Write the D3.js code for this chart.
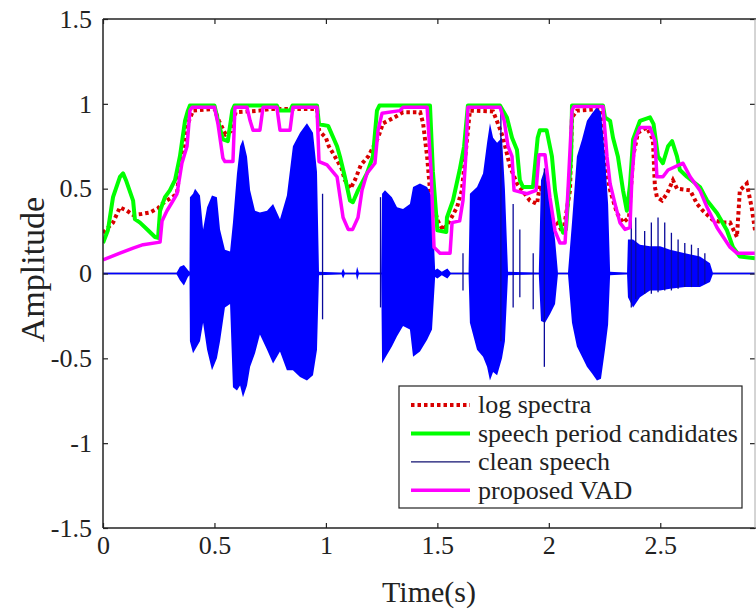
<!DOCTYPE html>
<html>
<head>
<meta charset="utf-8">
<script src="https://cdn.jsdelivr.net/npm/d3@7"></script>
<style>
  body { margin: 0; background: #fff; }
  text { font-family: "Liberation Serif", "Times New Roman", serif; fill: #222; }
</style>
</head>
<body>
<div id="chart"></div>
<script>
var svgWidth = 756;
var svgHeight = 610;

// plot box in pixels (right edge of the axes is cut by the picture)
var box = { left: 103, top: 19, right: 755, bottom: 528 };

var xTicks = [0, 0.5, 1, 1.5, 2, 2.5];
var yTicks = [-1.5, -1, -0.5, 0, 0.5, 1, 1.5];
var xMax = 2.925;

// log spectra [time, value]
var logSpectra = [
  [0, 0.24], [0.045, 0.30], [0.076, 0.39], [0.108, 0.37], [0.135, 0.345], [0.17, 0.35],
  [0.211, 0.36], [0.247, 0.385], [0.265, 0.41], [0.287, 0.43], [0.332, 0.47], [0.345, 0.63],
  [0.368, 0.75], [0.381, 0.885], [0.404, 0.96], [0.5, 0.97], [0.52, 0.9], [0.55, 0.82],
  [0.575, 0.84], [0.595, 0.95], [0.65, 0.955], [0.7, 0.96], [0.75, 0.97], [0.96, 0.97],
  [0.97, 0.84], [1.0, 0.80], [1.013, 0.75], [1.04, 0.69], [1.07, 0.62], [1.085, 0.55],
  [1.11, 0.50], [1.13, 0.55], [1.157, 0.64], [1.19, 0.69], [1.234, 0.80], [1.256, 0.885],
  [1.30, 0.915], [1.346, 0.95], [1.423, 0.95], [1.436, 0.885], [1.454, 0.69], [1.467, 0.49],
  [1.50, 0.315], [1.525, 0.255], [1.557, 0.315], [1.588, 0.39], [1.61, 0.49], [1.633, 0.79],
  [1.646, 0.96], [1.75, 0.955], [1.767, 0.9], [1.795, 0.80], [1.826, 0.63], [1.857, 0.53],
  [1.915, 0.43], [1.947, 0.41], [1.96, 0.52], [2.005, 0.33], [2.036, 0.30], [2.064, 0.24],
  [2.095, 0.49], [2.104, 0.92], [2.126, 0.96], [2.23, 0.97], [2.261, 0.59], [2.275, 0.49],
  [2.306, 0.355], [2.333, 0.30], [2.36, 0.33], [2.378, 0.69], [2.40, 0.83], [2.44, 0.86],
  [2.467, 0.79], [2.476, 0.51], [2.485, 0.45], [2.508, 0.43], [2.53, 0.47], [2.557, 0.55],
  [2.575, 0.50], [2.634, 0.49], [2.665, 0.41], [2.691, 0.37], [2.736, 0.315], [2.781, 0.30],
  [2.813, 0.30], [2.844, 0.215], [2.857, 0.49], [2.888, 0.53], [2.91, 0.39], [2.925, 0.255]
];

// speech period candidates [time, value]
var candidates = [
  [0, 0.18], [0.022, 0.255], [0.045, 0.45], [0.076, 0.57], [0.09, 0.59], [0.103, 0.55],
  [0.135, 0.43], [0.143, 0.32], [0.166, 0.30], [0.202, 0.255], [0.233, 0.215], [0.247, 0.21],
  [0.256, 0.37], [0.278, 0.45], [0.30, 0.49], [0.323, 0.55], [0.345, 0.69], [0.368, 0.90],
  [0.381, 0.96], [0.39, 0.99], [0.50, 0.99], [0.516, 0.9], [0.538, 0.79], [0.56, 0.78],
  [0.58, 0.96], [0.59, 0.99], [0.78, 0.99], [0.79, 0.96], [0.84, 0.96], [0.85, 0.99],
  [0.96, 0.99], [0.969, 0.88], [1.01, 0.87], [1.05, 0.75], [1.063, 0.69], [1.085, 0.57],
  [1.108, 0.43], [1.121, 0.42], [1.144, 0.49], [1.184, 0.59], [1.211, 0.69], [1.229, 0.96],
  [1.24, 0.99], [1.467, 0.99], [1.48, 0.6], [1.50, 0.255], [1.54, 0.245], [1.543, 0.33],
  [1.570, 0.43], [1.60, 0.61], [1.62, 0.75], [1.637, 0.99], [1.781, 0.99], [1.812, 0.92],
  [1.835, 0.80], [1.857, 0.73], [1.87, 0.55], [1.884, 0.51], [1.929, 0.51], [1.95, 0.80],
  [1.96, 0.845], [1.99, 0.845], [2.014, 0.69], [2.028, 0.49], [2.05, 0.30], [2.064, 0.24],
  [2.077, 0.26], [2.10, 0.69], [2.104, 0.99], [2.243, 0.99], [2.252, 0.92], [2.275, 0.90],
  [2.288, 0.80], [2.31, 0.69], [2.333, 0.49], [2.35, 0.37], [2.364, 0.52], [2.378, 0.79],
  [2.409, 0.90], [2.454, 0.92], [2.47, 0.88], [2.49, 0.69], [2.512, 0.65], [2.535, 0.75],
  [2.553, 0.78], [2.575, 0.69], [2.588, 0.61], [2.62, 0.57], [2.678, 0.51], [2.71, 0.43],
  [2.755, 0.355], [2.799, 0.255], [2.826, 0.155], [2.857, 0.10], [2.925, 0.09]
];

// proposed VAD [time, value]
var vad = [
  [0, 0.08], [0.076, 0.12], [0.135, 0.15], [0.18, 0.17], [0.256, 0.185], [0.265, 0.31],
  [0.287, 0.37], [0.31, 0.42], [0.332, 0.47], [0.354, 0.65], [0.377, 0.75], [0.39, 0.96],
  [0.40, 0.98], [0.50, 0.98], [0.516, 0.88], [0.538, 0.68], [0.547, 0.66], [0.583, 0.66],
  [0.592, 0.98], [0.646, 0.98], [0.66, 0.90], [0.673, 0.845], [0.704, 0.845], [0.718, 0.98],
  [0.78, 0.98], [0.794, 0.845], [0.839, 0.845], [0.852, 0.98], [0.96, 0.98], [0.969, 0.66],
  [1.005, 0.64], [1.05, 0.57], [1.077, 0.33], [1.10, 0.26], [1.12, 0.26], [1.144, 0.33],
  [1.162, 0.49], [1.184, 0.59], [1.22, 0.65], [1.234, 0.845], [1.252, 0.945], [1.332, 0.96],
  [1.346, 0.98], [1.454, 0.98], [1.472, 0.6], [1.485, 0.155], [1.512, 0.12], [1.557, 0.12],
  [1.566, 0.30], [1.60, 0.31], [1.615, 0.43], [1.628, 0.7], [1.637, 0.98], [1.781, 0.98],
  [1.80, 0.9], [1.817, 0.75], [1.835, 0.69], [1.844, 0.49], [1.902, 0.47], [1.943, 0.49],
  [1.956, 0.70], [1.983, 0.70], [2.005, 0.45], [2.028, 0.25], [2.05, 0.18], [2.073, 0.18],
  [2.086, 0.49], [2.104, 0.96], [2.113, 0.985], [2.243, 0.985], [2.261, 0.69], [2.275, 0.53],
  [2.297, 0.41], [2.319, 0.30], [2.342, 0.26], [2.364, 0.27], [2.373, 0.57], [2.387, 0.79],
  [2.409, 0.86], [2.454, 0.86], [2.476, 0.78], [2.485, 0.57], [2.512, 0.57], [2.535, 0.61],
  [2.602, 0.65], [2.634, 0.57], [2.678, 0.49], [2.71, 0.39], [2.755, 0.27], [2.813, 0.155],
  [2.844, 0.12], [2.925, 0.12]
];

// clean speech: envelope (time, upper, lower)
var waveT = [
  0, 0.33, 0.345, 0.363, 0.381, 0.388,
  0.39, 0.404, 0.413, 0.435, 0.449, 0.467, 0.489, 0.511, 0.525, 0.547, 0.57, 0.583,
  0.601, 0.615, 0.628, 0.646, 0.66, 0.682, 0.704, 0.736, 0.763, 0.794, 0.825, 0.852,
  0.884, 0.915, 0.942, 0.96, 0.969,
  1.07, 1.077, 1.085, 1.135, 1.14, 1.148, 1.248,
  1.252, 1.265, 1.296, 1.319, 1.346, 1.377, 1.391, 1.422, 1.454, 1.476, 1.49,
  1.50, 1.52, 1.545, 1.56, 1.64,
  1.646, 1.678, 1.705, 1.723, 1.736, 1.75, 1.768, 1.79, 1.803, 1.817,
  1.955, 1.965, 1.983, 2.005, 2.028, 2.041,
  2.086, 2.104, 2.126, 2.149, 2.171, 2.194, 2.216, 2.234, 2.252, 2.266, 2.275,
  2.351, 2.355, 2.378, 2.409, 2.454, 2.499, 2.544, 2.611, 2.678, 2.723, 2.736,
  2.925
];
var waveHi = [
  0.005, 0.005, 0.04, 0.05, 0.02, 0.01,
  0.45, 0.47, 0.50, 0.46, 0.26, 0.39, 0.46, 0.45, 0.26, 0.14, 0.13, 0.30,
  0.59, 0.75, 0.79, 0.69, 0.49, 0.37, 0.36, 0.37, 0.41, 0.32, 0.46, 0.75,
  0.83, 0.885, 0.83, 0.6, 0.01,
  0.005, 0.03, 0.005, 0.005, 0.04, 0.005, 0.005,
  0.47, 0.49, 0.45, 0.39, 0.38, 0.41, 0.51, 0.53, 0.51, 0.45, 0.02,
  0.03, 0.01, 0.03, 0.005, 0.005,
  0.47, 0.51, 0.59, 0.77, 0.885, 0.80, 0.77, 0.80, 0.5, 0.01,
  0.005, 0.55, 0.62, 0.42, 0.2, 0.005,
  0.005, 0.3, 0.69, 0.79, 0.9, 0.945, 0.98, 0.95, 0.69, 0.41, 0.01,
  0.005, 0.2, 0.2, 0.17, 0.16, 0.16, 0.14, 0.12, 0.1, 0.06, 0.005,
  0.005
];
var waveLo = [
  -0.005, -0.005, -0.04, -0.07, -0.02, -0.01,
  -0.4, -0.47, -0.45, -0.40, -0.29, -0.45, -0.57, -0.50, -0.40, -0.2, -0.18, -0.67,
  -0.69, -0.66, -0.73, -0.66, -0.55, -0.47, -0.36, -0.45, -0.53, -0.46, -0.57, -0.57,
  -0.61, -0.63, -0.60, -0.45, -0.01,
  -0.005, -0.03, -0.005, -0.005, -0.04, -0.005, -0.005,
  -0.53, -0.5, -0.43, -0.37, -0.31, -0.33, -0.49, -0.46, -0.39, -0.33, -0.02,
  -0.03, -0.01, -0.03, -0.005, -0.005,
  -0.29, -0.45, -0.49, -0.55, -0.63, -0.58, -0.6, -0.50, -0.4, -0.01,
  -0.005, -0.28, -0.29, -0.24, -0.18, -0.005,
  -0.005, -0.29, -0.43, -0.49, -0.55, -0.59, -0.63, -0.62, -0.45, -0.3, -0.01,
  -0.005, -0.14, -0.2, -0.14, -0.1, -0.1, -0.09, -0.08, -0.08, -0.05, -0.005,
  -0.005
];

// thin single spikes of the clean speech
var spikeT  = [0.985, 1.245, 1.615, 1.785, 1.84, 1.87, 1.93, 1.98, 2.37, 2.39, 2.43, 2.46, 2.49, 2.52, 2.55, 2.58, 2.61, 2.64, 2.67, 2.70];
var spikeHi = [0.47, 0.45, 0.12, 0.95, 0.41, 0.26, 0.12, 0.62, 0.38, 0.33, 0.25, 0.3, 0.33, 0.3, 0.24, 0.2, 0.18, 0.17, 0.15, 0.12];
var spikeLo = [-0.27, -0.2, -0.1, -0.4, -0.2, -0.14, -0.21, -0.55, -0.2, -0.15, -0.12, -0.12, -0.11, -0.1, -0.1, -0.09, -0.08, -0.08, -0.07, -0.06];

var svg = d3.select("#chart")
  .append("svg")
  .attr("width", svgWidth)
  .attr("height", svgHeight);

var xScale = d3.scaleLinear().domain([0, xMax]).range([box.left, box.right]);
var yScale = d3.scaleLinear().domain([-1.5, 1.5]).range([box.bottom, box.top]);

svg.append("clipPath").attr("id", "plotClip")
  .append("rect")
  .attr("x", box.left).attr("y", box.top)
  .attr("width", box.right - box.left).attr("height", box.bottom - box.top);

var plot = svg.append("g").attr("clip-path", "url(#plotClip)");

var line = d3.line()
  .x(d => xScale(d[0]))
  .y(d => yScale(d[1]));

// log spectra first (plot order of the legend)
plot.append("path")
  .datum(logSpectra)
  .attr("d", line)
  .attr("fill", "none")
  .attr("stroke", "#d80000")
  .attr("stroke-width", 4)
  .attr("stroke-dasharray", "3.5,3");

plot.append("path")
  .datum(candidates)
  .attr("d", line)
  .attr("fill", "none")
  .attr("stroke", "#00ff00")
  .attr("stroke-width", 4)
  .attr("stroke-linejoin", "round");

// clean speech
plot.append("line")
  .attr("x1", xScale(0)).attr("x2", xScale(xMax))
  .attr("y1", yScale(0)).attr("y2", yScale(0))
  .attr("stroke", "#101070")
  .attr("stroke-width", 1.3);

var waveArea = d3.area()
  .x((d, i) => xScale(waveT[i]))
  .y0((d, i) => yScale(waveLo[i]))
  .y1((d, i) => yScale(waveHi[i]));

plot.append("path")
  .datum(waveT)
  .attr("d", waveArea)
  .attr("fill", "#0000ff")
  .attr("stroke", "none");

plot.selectAll("line.spike")
  .data(spikeT)
  .enter()
  .append("line")
  .attr("class", "spike")
  .attr("x1", d => xScale(d)).attr("x2", d => xScale(d))
  .attr("y1", (d, i) => yScale(spikeHi[i]))
  .attr("y2", (d, i) => yScale(spikeLo[i]))
  .attr("stroke", "#0a0a9a")
  .attr("stroke-width", 1.3);

plot.append("path")
  .datum(vad)
  .attr("d", line)
  .attr("fill", "none")
  .attr("stroke", "#ff00ff")
  .attr("stroke-width", 3.5)
  .attr("stroke-linejoin", "round");

// axes, ticks pointing inward on all four sides
var bottomAxis = d3.axisBottom(xScale).tickValues(xTicks).tickFormat(d3.format("")).tickSizeInner(-5).tickSizeOuter(0).tickPadding(8);
var topAxis = d3.axisTop(xScale).tickValues(xTicks).tickFormat("").tickSizeInner(-5).tickSizeOuter(0);
var leftAxis = d3.axisLeft(yScale).tickValues(yTicks).tickFormat(d => d3.format("")(d).replace("−", "-")).tickSizeInner(-5).tickSizeOuter(0).tickPadding(11);
var rightAxis = d3.axisRight(yScale).tickValues(yTicks).tickFormat("").tickSizeInner(-5).tickSizeOuter(0);

function styleAxis(g) {
  g.attr("font-family", "Liberation Serif, serif");
  g.select(".domain").remove();
  g.selectAll(".tick line").attr("stroke", "#222").attr("stroke-width", 1.2);
  g.selectAll(".tick text")
    .attr("font-size", 26)
    .attr("fill", "#222");
}

svg.append("g").attr("transform", `translate(0, ${box.bottom})`).call(bottomAxis).call(styleAxis);
svg.append("g").attr("transform", `translate(0, ${box.top})`).call(topAxis).call(styleAxis);
svg.append("g").attr("transform", `translate(${box.left}, 0)`).call(leftAxis).call(styleAxis);
svg.append("g").attr("transform", `translate(${box.right}, 0)`).call(rightAxis).call(styleAxis);

// box
svg.append("line").attr("x1", box.left).attr("x2", svgWidth).attr("y1", box.top).attr("y2", box.top)
  .attr("stroke", "#222").attr("stroke-width", 1.5);
svg.append("line").attr("x1", box.left).attr("x2", svgWidth).attr("y1", box.bottom).attr("y2", box.bottom)
  .attr("stroke", "#222").attr("stroke-width", 1.5);
svg.append("line").attr("x1", box.left).attr("x2", box.left).attr("y1", box.top).attr("y2", box.bottom)
  .attr("stroke", "#222").attr("stroke-width", 1.5);
svg.append("line").attr("x1", box.right).attr("x2", box.right).attr("y1", box.top).attr("y2", box.bottom)
  .attr("stroke", "#aaa").attr("stroke-width", 1);

// axis labels
svg.append("text")
  .attr("x", (box.left + box.right) / 2)
  .attr("y", 602)
  .attr("text-anchor", "middle")
  .attr("font-size", 30)
  .text("Time(s)");

svg.append("text")
  .attr("transform", `translate(44, ${yScale(0) - 4}) rotate(-90)`)
  .attr("text-anchor", "middle")
  .attr("font-size", 34)
  .text("Amplitude");

// legend
var legendItems = [
  { label: "log spectra", color: "#d80000", width: 4, dash: "3.5,3" },
  { label: "speech period candidates", color: "#00ff00", width: 4, dash: null },
  { label: "clean speech", color: "#101070", width: 1.3, dash: null },
  { label: "proposed VAD", color: "#ff00ff", width: 3.5, dash: null }
];

var legend = svg.append("g");
legend.append("rect")
  .attr("x", 399).attr("y", 386)
  .attr("width", 343).attr("height", 122)
  .attr("fill", "#fff")
  .attr("stroke", "#222")
  .attr("stroke-width", 1.2);

var rows = legend.selectAll("g.row")
  .data(legendItems)
  .enter()
  .append("g")
  .attr("class", "row")
  .attr("transform", (d, i) => `translate(0, ${405 + i * 28.4})`);

rows.append("line")
  .attr("x1", 411).attr("x2", 470)
  .attr("stroke", d => d.color)
  .attr("stroke-width", d => d.width)
  .attr("stroke-dasharray", d => d.dash);

rows.append("text")
  .attr("x", 478)
  .attr("dy", "0.32em")
  .attr("font-size", 26)
  .text(d => d.label);
</script>
</body>
</html>
